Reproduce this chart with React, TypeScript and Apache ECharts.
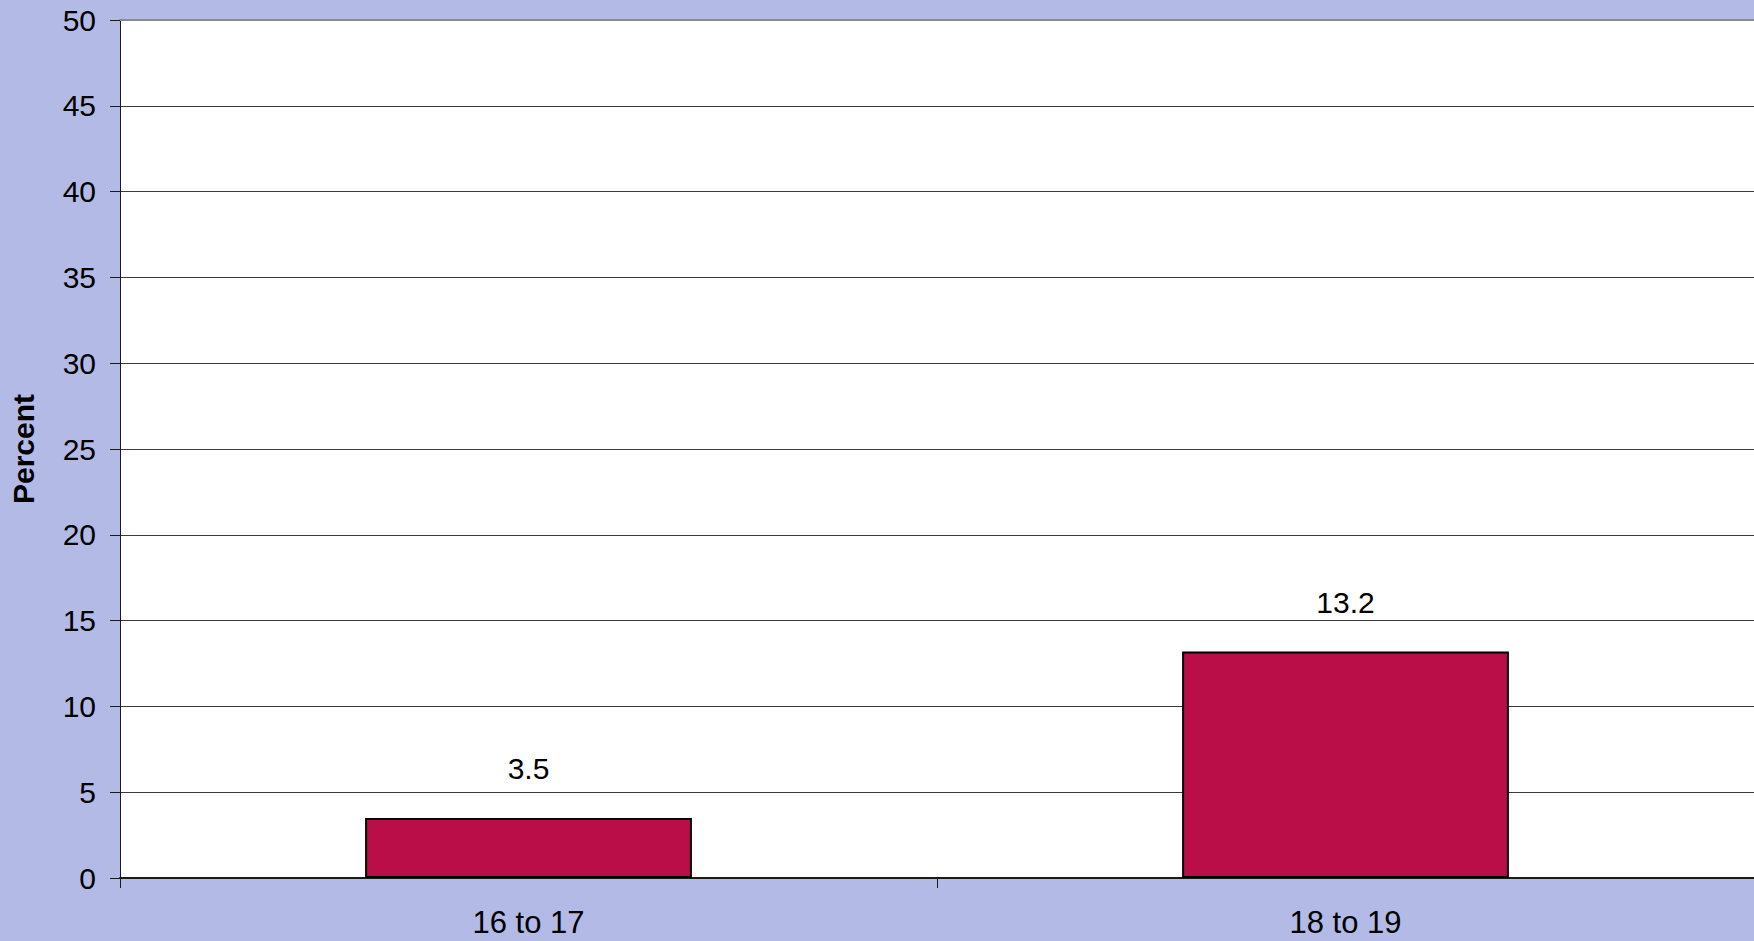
import React, { useEffect, useRef } from "react";
import * as echarts from "echarts";

const categories = ["16 to 17", "18 to 19"];
const values = [3.5, 13.2];
const yMin = 0;
const yMax = 50;
const yInterval = 5;
const yTitle = "Percent";

export default function App() {
  const ref = useRef<HTMLDivElement>(null);
  useEffect(() => {
    document.body.style.margin = "0";
    const chart = echarts.init(ref.current!, null, { renderer: "svg" });
    const font = "Arial, 'Liberation Sans', sans-serif";
    chart.setOption({
      animation: false,
      backgroundColor: "#B3BAE6",
      grid: {
        left: 119,
        top: 20,
        right: 0,
        bottom: 63,
        show: true,
        backgroundColor: "#ffffff",
        borderWidth: 0,
      },
      xAxis: [
        {
          type: "category",
          data: categories,
          boundaryGap: true,
          axisLine: { show: true, lineStyle: { color: "#1a1a1a", width: 2 } },
          axisTick: { show: true, length: 10, lineStyle: { color: "#1a1a1a", width: 1 } },
          axisLabel: { color: "#000", fontSize: 31, fontFamily: font, margin: 29 },
          splitLine: { show: false },
        },
        {
          type: "category",
          data: categories,
          position: "top",
          axisLine: { show: true, lineStyle: { color: "#8a8a8a", width: 2 } },
          axisTick: { show: false },
          axisLabel: { show: false },
        },
      ],
      yAxis: {
        type: "value",
        min: yMin,
        max: yMax,
        interval: yInterval,
        name: yTitle,
        nameLocation: "middle",
        nameRotate: 90,
        nameGap: 82,
        nameTextStyle: { color: "#000", fontSize: 30, fontWeight: "bold", fontFamily: font },
        axisLine: { show: true, lineStyle: { color: "#1a1a1a", width: 1 } },
        axisTick: { show: true, length: 10, inside: false, lineStyle: { color: "#1a1a1a", width: 1 } },
        axisLabel: { color: "#000", fontSize: 30, fontFamily: font, margin: 24 },
        splitLine: { show: true, lineStyle: { color: "#3a3a3a", width: 1 } },
      },
      series: [
        {
          type: "bar",
          data: values,
          barWidth: "40%",
          itemStyle: { color: "#B90E47", borderColor: "#000", borderWidth: 2 },
          label: {
            show: true,
            position: "top",
            distance: 34,
            color: "#000",
            fontSize: 30,
            fontFamily: font,
          },
        },
      ],
    });
    return () => chart.dispose();
  }, []);
  return <div ref={ref} style={{ width: 1754, height: 941 }} />;
}
